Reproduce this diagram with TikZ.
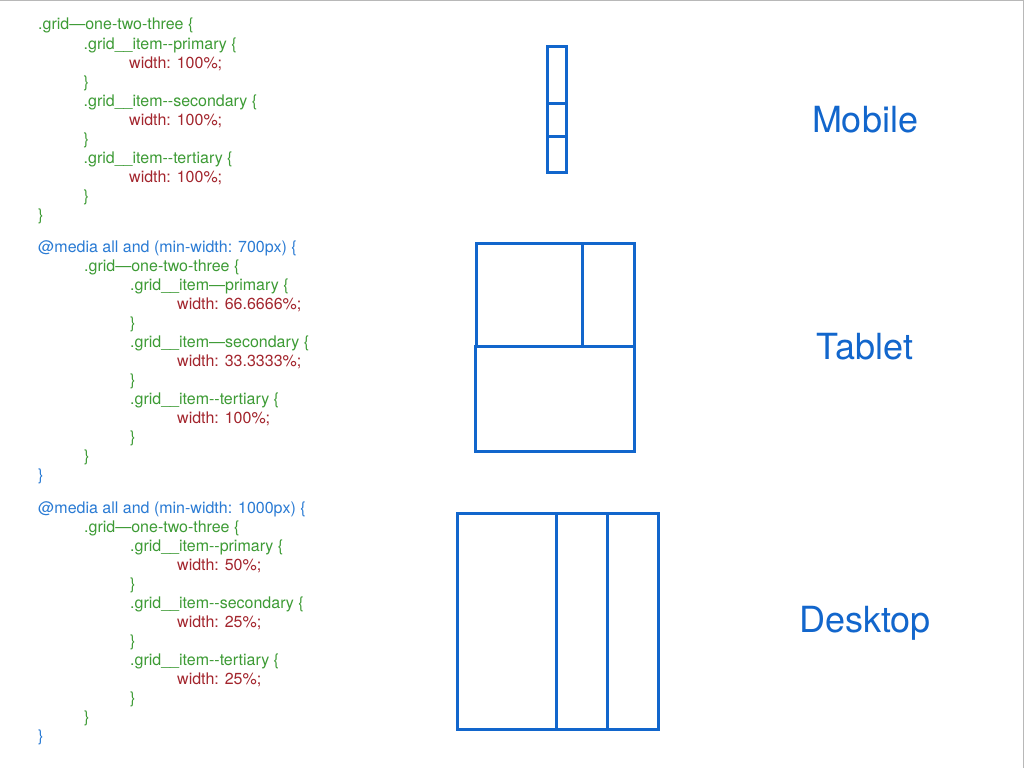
\documentclass[tikz,border=0pt]{standalone}
\usepackage{fontspec}
\newfontfamily\codefont{TeX Gyre Heros}
\definecolor{cgreen}{HTML}{3D9B35}
\definecolor{cred}{HTML}{A3262E}
\definecolor{cblue}{HTML}{2A7BD4}
\definecolor{rblue}{HTML}{1266CC}
\definecolor{frame}{HTML}{B8B8B8}
\tikzset{
  code/.style={anchor=base west, inner sep=0pt, font=\codefont\fontsize{16}{19}\selectfont},
  g/.style={code, text=cgreen},
  r/.style={code, text=cred},
  b/.style={code, text=cblue},
  lbl/.style={anchor=base, inner sep=0pt, text=rblue, font=\codefont\fontsize{36}{40}\selectfont},
  box/.style={draw=rblue, line width=3pt}
}
\begin{document}
\begin{tikzpicture}[x=1pt,y=-1pt]
\useasboundingbox[fill=white] (0,0) rectangle (1024,768);
\draw[frame, line width=1.5pt] (0,0.75) -- (1023.25,0.75) -- (1023.25,768);
% block 1
\node[g] (a1) at (38,30) {.grid—one-two-three \{};
\node[g] (a2) at (83.5,49) {.grid\_\_item--primary \{};
\node[r] (a3) at (129,68) {width: 100\%;};
\node[g] (a4) at (83.5,87) {\}};
\node[g] (a5) at (83.5,106) {.grid\_\_item--secondary \{};
\node[r] (a6) at (129,125) {width: 100\%;};
\node[g] (a7) at (83.5,144) {\}};
\node[g] (a8) at (83.5,163) {.grid\_\_item--tertiary \{};
\node[r] (a9) at (129,182) {width: 100\%;};
\node[g] (a10) at (83.5,201) {\}};
\node[g] (a11) at (38,220) {\}};
% block 2
\node[b] (b1) at (38,252) {@media all and (min-width: 700px) \{};
\node[g] (b2) at (84,271) {.grid—one-two-three \{};
\node[g] (b3) at (130,290) {.grid\_\_item—primary \{};
\node[r] (b4) at (177,309) {width: 66.6666\%;};
\node[g] (b5) at (130,328) {\}};
\node[g] (b6) at (130,347) {.grid\_\_item—secondary \{};
\node[r] (b7) at (177,366) {width: 33.3333\%;};
\node[g] (b8) at (130,385) {\}};
\node[g] (b9) at (130,404) {.grid\_\_item--tertiary \{};
\node[r] (b10) at (177,423) {width: 100\%;};
\node[g] (b11) at (130,442) {\}};
\node[g] (b12) at (84,461) {\}};
\node[b] (b13) at (38,480) {\}};
% block 3
\node[b] (c1) at (38,513) {@media all and (min-width: 1000px) \{};
\node[g] (c2) at (84,532) {.grid—one-two-three \{};
\node[g] (c3) at (130,551) {.grid\_\_item--primary \{};
\node[r] (c4) at (177,570) {width: 50\%;};
\node[g] (c5) at (130,589) {\}};
\node[g] (c6) at (130,608) {.grid\_\_item--secondary \{};
\node[r] (c7) at (177,627) {width: 25\%;};
\node[g] (c8) at (130,646) {\}};
\node[g] (c9) at (130,665) {.grid\_\_item--tertiary \{};
\node[r] (c10) at (177,684) {width: 25\%;};
\node[g] (c11) at (130,703) {\}};
\node[g] (c12) at (84,722) {\}};
\node[b] (c13) at (38,741) {\}};
% mobile
\draw[box] (547,47) rectangle (566,172);
\draw[box] (547,103) -- (566,103);
\draw[box] (547,136) -- (566,136);
% tablet
\draw[box] (476,243) rectangle (634,346);
\draw[box] (582,243) -- (582,346);
\draw[box] (475,346) rectangle (634,451);
% desktop
\draw[box] (457,513) rectangle (658,729);
\draw[box] (556,513) -- (556,729);
\draw[box] (607,513) -- (607,729);
% labels
\node[lbl] (lm) at (865,132) {Mobile};
\node[lbl] (lt) at (865,359) {Tablet};
\node[lbl] (ld) at (865,632) {Desktop};
\end{tikzpicture}
\end{document}
